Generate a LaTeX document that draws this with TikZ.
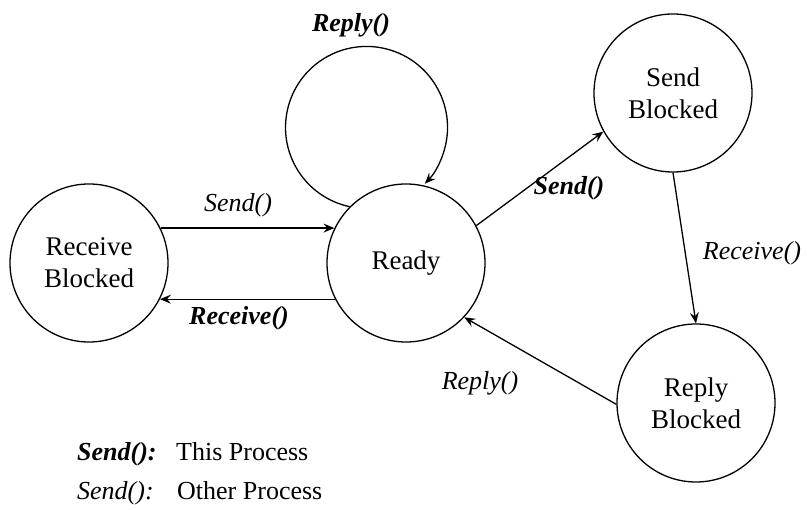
\documentclass[tikz,border=0pt]{standalone}
\usepackage{fontspec}
\setmainfont{Liberation Serif}
\usetikzlibrary{arrows.meta}
\begin{document}
\begin{tikzpicture}[x=1pt,y=1pt,
  state/.style={circle,draw,line width=1.3pt,minimum size=158pt,inner sep=0pt,
    align=center,font=\fontsize{27}{32}\selectfont},
  trans/.style={line width=1.3pt,-{Stealth[length=11pt,width=9pt,inset=4pt]}},
  lbl/.style={font=\fontsize{26}{32}\selectfont\itshape,inner sep=0pt},
  blbl/.style={font=\fontsize{26}{32}\selectfont\bfseries\itshape,inner sep=0pt},
  legend/.style={font=\fontsize{26}{32}\selectfont,inner sep=0pt,anchor=base west}]
\useasboundingbox (0,0) rectangle (807,-510);

% states
\node[state] (rcv)   at (89,-263)  {Receive\\Blocked};
\node[state] (ready) at (406,-263) {Ready};
\node[state] (sb)    at (673,-93)  {Send\\Blocked};
\node[state] (rb)    at (696,-403) {Reply\\Blocked};

% transitions
\draw[trans] (rcv.26) -- (ready.154);
\draw[trans] (ready.-153) -- (rcv.-27);
\draw[trans] (ready.28) -- (sb.209);
\draw[trans] (sb.south) -- (rb.north);
\draw[trans] (rb.181) -- (ready.-43);
\draw[trans] (ready.135) arc[start angle=258,end angle=-44,radius=81];

% transition labels
\node[lbl]  (l1) at (238,-205) {Send()};
\node[blbl] (l2) at (239,-318) {Receive()};
\node[blbl] (l3) at (351,-25)  {Reply()};
\node[blbl] (l4) at (569,-188) {Send()};
\node[lbl]  (l5) at (752,-253) {Receive()};
\node[lbl]  (l6) at (480,-383) {Reply()};

% legend
\node[legend,font=\fontsize{26}{32}\selectfont\bfseries\itshape] (k1) at (77,-461) {Send():};
\node[legend] (k1t) at (176,-461) {This Process};
\node[legend,font=\fontsize{26}{32}\selectfont\itshape] (k2) at (77,-500) {Send():};
\node[legend] (k2t) at (177,-500) {Other Process};
\end{tikzpicture}
\end{document}
